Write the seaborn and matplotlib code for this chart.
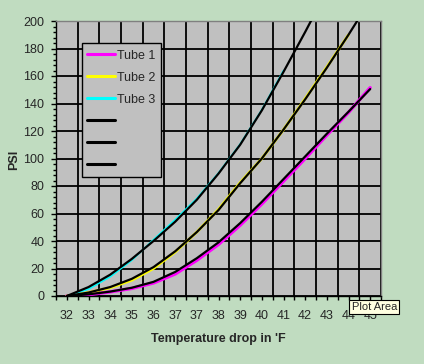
import pandas as pd
import seaborn as sns
import matplotlib.pyplot as plt
from matplotlib.lines import Line2D
from matplotlib.ticker import MultipleLocator

# Chart data
temp_labels = ["32", "33", "34", "35", "36", "37", "37", "38", "39",
               "40", "41", "42", "43", "44", "45"]

# measured series (coloured)
tube1 = [0, 1, 3, 5.5, 9.5, 16, 26, 37.5, 51.5, 67, 83.5, 100, 117, 133.5, 151.5]
tube2 = [0, 2.5, 6, 11.5, 20, 32, 46.5, 63, 82.5, 100, 121, 143.5, 166.5, 190]
tube3 = [0, 5, 14, 26, 41, 55.5, 71, 89.5, 110.5, 135.5, 164]

# trend lines (black)
trend1 = [0, 1.2, 3.2, 6, 10.3, 17.5, 27.5, 39, 53, 68.5, 85, 101.5, 118, 134, 150.5]
trend2 = [0, 2.5, 6.5, 12.5, 21, 32.5, 46.5, 62.5, 82, 100, 121, 143, 166, 190, 215]
trend3 = [0, 6.5, 15.5, 27, 40, 54, 70, 89, 110, 135, 163, 192, 222]

tube_names = ["Tube 1", "Tube 2", "Tube 3"]
tube_colors = ["#FF00FF", "#FFFF00", "#00FFFF"]

sns.set_style("ticks")
plt.rcParams["font.family"] = ["Liberation Sans", "DejaVu Sans"]
plt.rcParams["font.size"] = 9

fig = plt.figure(figsize=(4.24, 3.64), dpi=100, facecolor="#C0DCC0")
ax = fig.add_axes([56 / 424, 68 / 364, 325 / 424, 275 / 364])
ax.set_facecolor("#C0C0C0")


def to_frame(vals):
    return pd.DataFrame({"x": range(len(vals)), "y": vals})


for vals, col, lw in zip([tube1, tube2, tube3], tube_colors, [2.4, 2.0, 1.2]):
    sns.lineplot(data=to_frame(vals), x="x", y="y", color=col, lw=lw,
                 ax=ax, zorder=3)
for vals in [trend1, trend2, trend3]:
    sns.lineplot(data=to_frame(vals), x="x", y="y", color="black", lw=1.6,
                 ax=ax, zorder=4)

ax.set_xlim(-0.5, len(temp_labels) - 0.5)
ax.set_ylim(0, 200)

# x: gridlines at category edges, labels at category centres
ax.set_xticks([i - 0.5 for i in range(len(temp_labels) + 1)])
ax.set_xticklabels([])
ax.set_xticks(range(len(temp_labels)), labels=temp_labels, minor=True)
ax.yaxis.set_major_locator(MultipleLocator(20))
ax.yaxis.set_minor_locator(MultipleLocator(4))

ax.tick_params(axis="x", which="both", length=3, width=1, color="black",
               direction="out", pad=7, labelsize=9)
ax.tick_params(axis="y", which="major", length=3.5, width=1, color="black",
               direction="out", pad=5, labelsize=9)
ax.tick_params(axis="y", which="minor", length=2, width=1, color="black",
               direction="out")
ax.grid(True, which="major", color="black", lw=1.3)

for side in ["left", "bottom"]:
    ax.spines[side].set_color("black")
    ax.spines[side].set_linewidth(1)
for side in ["top", "right"]:
    ax.spines[side].set_color("#808080")
    ax.spines[side].set_linewidth(1)

ax.set_xlabel("Temperature drop in 'F", fontweight="bold", fontsize=9)
ax.xaxis.set_label_coords(0.5, -0.134)
ax.set_ylabel("PSI", fontweight="bold", fontsize=9)
ax.yaxis.set_label_coords(-0.111, 0.495)

# legend: three tubes plus three unlabeled black trend lines
handles = [Line2D([], [], color=c, lw=2.2) for c in tube_colors]
handles += [Line2D([], [], color="black", lw=2.2) for _ in range(3)]
labels = tube_names + ["", "", ""]
leg = ax.legend(handles, labels, loc="upper left",
                bbox_to_anchor=(81.7 / 424, 1 - 43.3 / 364),
                bbox_transform=fig.transFigure, frameon=True, fancybox=False,
                edgecolor="black", facecolor="#C0C0C0", framealpha=1,
                handlelength=2.25, handleheight=1.3, handletextpad=0.2,
                labelspacing=0.64, borderpad=0.4, borderaxespad=0, fontsize=9)
leg.get_frame().set_linewidth(1.0)
leg.set_zorder(10)

# tooltip box seen in the screenshot
fig.text(351.5 / 424, 1 - 307 / 364, "Plot Area", fontsize=8, ha="left",
         va="center",
         bbox=dict(boxstyle="square,pad=0.2", fc="#FFFFE1", ec="black", lw=0.8))

fig.savefig("out.png", dpi=100, facecolor=fig.get_facecolor())
